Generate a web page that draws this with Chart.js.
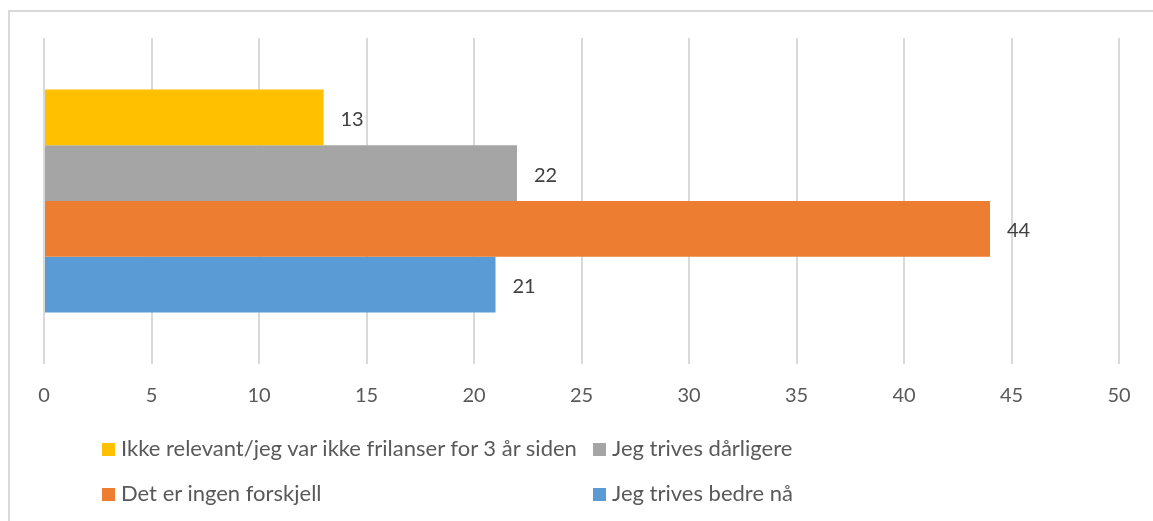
<!DOCTYPE html>
<html lang="no">
<head>
  <meta charset="UTF-8">
  <title>Trivsel som frilanser</title>
  <script src="https://cdn.jsdelivr.net/npm/chart.js"></script>
  <style>
    body {
      margin: 0;
      width: 1153px;
      height: 521px;
      overflow: hidden;
      background: #fff;
      font-family: Lato, sans-serif;
      color: #595959;
    }
    .frame {
      position: absolute;
      left: 8px;
      top: 10px;
      width: 1300px;
      height: 700px;
      border: 2px solid #d9d9d9;
    }
    .wrap {
      position: absolute;
      left: 0;
      top: 0;
      width: 1153px;
      height: 521px;
    }
    .legend-item {
      position: absolute;
      font-size: 22px;
      white-space: nowrap;
      line-height: 22px;
    }
    .legend-item span.box {
      display: inline-block;
      width: 13px;
      height: 13px;
      margin-right: 6px;
      vertical-align: 0px;
    }
  </style>
</head>
<body>
  <div class="frame"></div>
  <div class="wrap"><canvas id="chart" width="1153" height="521"></canvas></div>
  <div id="legend"></div>

  <script>
    const categories = [''];
    const seriesNames = [
      'Ikke relevant/jeg var ikke frilanser for 3 år siden',
      'Jeg trives dårligere',
      'Det er ingen forskjell',
      'Jeg trives bedre nå'
    ];
    const seriesValues = [[13], [22], [44], [21]];
    const seriesColors = ['#FFC000', '#A5A5A5', '#ED7D31', '#5B9BD5'];
    const xTicks = [0, 5, 10, 15, 20, 25, 30, 35, 40, 45, 50];

    // legend layout, two columns like the original
    const legendPos = [[102, 437], [593, 437], [102, 482], [593, 482]];
    const legendEl = document.getElementById('legend');
    seriesNames.forEach((name, i) => {
      const div = document.createElement('div');
      div.className = 'legend-item';
      div.style.left = legendPos[i][0] + 'px';
      div.style.top = legendPos[i][1] + 'px';
      div.innerHTML = '<span class="box" style="background:' + seriesColors[i] + '"></span>' + name;
      legendEl.appendChild(div);
    });

    // value labels right of each bar
    const valueLabels = {
      id: 'valueLabels',
      afterDatasetsDraw(chart) {
        const ctx = chart.ctx;
        ctx.save();
        ctx.font = '20px Lato, sans-serif';
        ctx.fillStyle = '#404040';
        ctx.textAlign = 'left';
        ctx.textBaseline = 'middle';
        chart.data.datasets.forEach((ds, i) => {
          chart.getDatasetMeta(i).data.forEach((bar, j) => {
            ctx.fillText(ds.data[j], bar.x + 17, bar.y + 2);
          });
        });
        ctx.restore();
      }
    };

    new Chart(document.getElementById('chart'), {
      type: 'bar',
      data: {
        labels: categories,
        datasets: seriesNames.map((name, i) => ({
          label: name,
          data: seriesValues[i],
          backgroundColor: seriesColors[i],
          barPercentage: 1,
          categoryPercentage: 0.684
        }))
      },
      options: {
        indexAxis: 'y',
        responsive: false,
        animation: false,
        layout: { padding: { left: 44, right: 34, top: 38, bottom: 117 } },
        plugins: {
          legend: { display: false },
          tooltip: { enabled: false }
        },
        scales: {
          x: {
            min: 0,
            max: 50,
            afterBuildTicks(axis) {
              axis.ticks = xTicks.map(v => ({ value: v }));
            },
            afterFit(axis) { axis.height = 40; },
            grid: { color: '#d9d9d9', lineWidth: 2, drawTicks: false },
            border: { display: false },
            ticks: {
              padding: 20,
              color: '#595959',
              font: { family: 'Lato', size: 20 }
            }
          },
          y: {
            display: false
          }
        }
      },
      plugins: [valueLabels]
    });
  </script>
</body>
</html>
